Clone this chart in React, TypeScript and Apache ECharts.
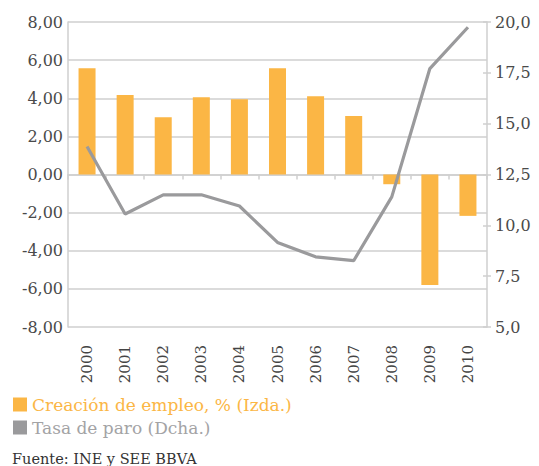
import React, { useEffect, useRef } from "react";
import * as echarts from "echarts";

const years = ["2000", "2001", "2002", "2003", "2004", "2005", "2006", "2007", "2008", "2009", "2010"];
const empleo = [5.58, 4.17, 3.0, 4.05, 3.95, 5.58, 4.1, 3.07, -0.51, -5.8, -2.17];
const paro = [13.88, 10.56, 11.5, 11.5, 10.95, 9.16, 8.45, 8.26, 11.4, 17.71, 19.74];
const empleoName = "Creación de empleo, % (Izda.)";
const paroName = "Tasa de paro (Dcha.)";
const sourceText = "Fuente: INE y SEE BBVA";

const FONT = "DejaVu Serif";
const ORANGE = "#fbb645";
const GRAY = "#9a9a9c";
const AXIS = "#cfcfcf";

export default function App() {
  const ref = useRef<HTMLDivElement>(null);
  useEffect(() => {
    if (!ref.current) return;
    const chart = echarts.init(ref.current, null, { renderer: "svg" });
    chart.setOption({
      animation: false,
      backgroundColor: "#ffffff",
      grid: { left: 68, right: 52, top: 22, bottom: 139, containLabel: false },
      legend: {
        orient: "vertical",
        left: 13,
        top: 396,
        icon: "rect",
        itemWidth: 14,
        itemHeight: 14,
        itemGap: 6,
        padding: 0,
        textStyle: { fontFamily: FONT, fontSize: 17, lineHeight: 16 },
        data: [
          { name: empleoName, textStyle: { color: ORANGE } },
          { name: paroName, textStyle: { color: "#a3a3a5" } },
        ],
      },
      graphic: [
        {
          type: "text",
          left: 12,
          top: 451,
          style: { text: sourceText, fill: "#333333", font: `14.5px "${FONT}"` },
        },
      ],
      xAxis: [
        {
          type: "category",
          data: years,
          axisLine: { onZero: true, lineStyle: { color: AXIS, width: 1.5 } },
          axisTick: { show: true, length: 5, lineStyle: { color: AXIS, width: 1.5 } },
          axisLabel: { show: false },
        },
        {
          type: "category",
          data: years,
          position: "bottom",
          axisLine: { show: false },
          axisTick: { show: false },
          axisLabel: {
            rotate: 90,
            margin: 18,
            color: "#444444",
            fontFamily: FONT,
            fontSize: 15,
          },
        },
      ],
      yAxis: [
        {
          type: "value",
          min: -8,
          max: 8,
          interval: 2,
          axisLine: { show: true, lineStyle: { color: AXIS, width: 1.5 } },
          axisTick: { show: false },
          splitLine: { lineStyle: { color: AXIS, width: 1.5 } },
          axisLabel: {
            margin: 5,
            color: "#4a4a4a",
            fontFamily: FONT,
            fontSize: 16,
            formatter: (v: number) => v.toFixed(2).replace(".", ","),
          },
        },
        {
          type: "value",
          position: "right",
          min: 5,
          max: 20,
          interval: 2.5,
          axisLine: { show: true, lineStyle: { color: AXIS, width: 1.5 } },
          axisTick: { show: true, length: 4, lineStyle: { color: AXIS, width: 1.5 } },
          splitLine: { show: false },
          axisLabel: {
            margin: 8,
            color: "#4a4a4a",
            fontFamily: FONT,
            fontSize: 16,
            formatter: (v: number) => v.toFixed(1).replace(".", ","),
          },
        },
        {
          type: "value",
          position: "right",
          min: 5,
          max: 20,
          interval: 2.5,
          axisLine: { show: false },
          axisTick: { show: true, inside: true, length: 4, lineStyle: { color: AXIS, width: 1.5 } },
          splitLine: { show: false },
          axisLabel: { show: false },
        },
      ],
      series: [
        {
          name: empleoName,
          type: "bar",
          xAxisIndex: 0,
          yAxisIndex: 0,
          data: empleo,
          barWidth: 17,
          itemStyle: { color: ORANGE },
        },
        {
          name: paroName,
          type: "line",
          xAxisIndex: 0,
          yAxisIndex: 1,
          data: paro,
          symbol: "none",
          lineStyle: { color: GRAY, width: 3.2 },
          itemStyle: { color: GRAY },
        },
      ],
    });
    return () => chart.dispose();
  }, []);
  return <div ref={ref} style={{ width: 539, height: 466, position: "absolute", left: 0, top: 0 }} />;
}
